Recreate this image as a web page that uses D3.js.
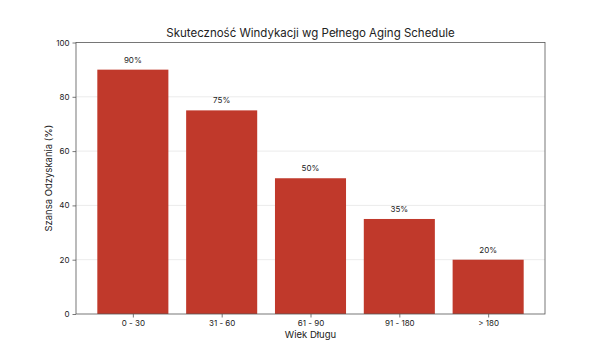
<!DOCTYPE html>
<html>
<head>
<meta charset="utf-8">
<script src="https://cdn.jsdelivr.net/npm/d3@7"></script>
<style>
  body { margin: 0; background: #fff; }
  text { font-family: "Inter", "Open Sans", sans-serif; fill: #222; }
</style>
</head>
<body>
<div id="chart"></div>
<script>
// data
var categories = ["0 - 30", "31 - 60", "61 - 90", "91 - 180", "> 180"];
var values = [90, 75, 50, 35, 20];
var yTicks = [0, 20, 40, 60, 80, 100];

var W = 605, H = 353;
var margin = {top: 42.5, right: 60, bottom: 39, left: 76};
var width = W - margin.left - margin.right,
    height = H - margin.top - margin.bottom;

var svg = d3.select("#chart")
  .append("svg")
    .attr("width", W)
    .attr("height", H);

var g = svg.append("g")
  .attr("transform", "translate(" + margin.left + "," + margin.top + ")");

// x like matplotlib: bar width 0.8, margins 0.05
var x = d3.scaleLinear()
  .domain([-0.64, categories.length - 1 + 0.64])
  .range([0, width]);
var y = d3.scaleLinear()
  .domain([0, 100])
  .range([height, 0]);

// grid
g.selectAll(".grid")
  .data(yTicks.filter(function(d) { return d > 0 && d < 100; }))
  .enter().append("line")
    .attr("x1", 0).attr("x2", width)
    .attr("y1", function(d) { return y(d); })
    .attr("y2", function(d) { return y(d); })
    .attr("stroke", "#e6e6e6")
    .attr("stroke-width", 0.8);

// bars
g.selectAll("rect.bar")
  .data(values)
  .enter().append("rect")
    .attr("class", "bar")
    .attr("x", function(d, i) { return x(i - 0.4); })
    .attr("y", function(d) { return y(d); })
    .attr("width", x(0.4) - x(-0.4))
    .attr("height", function(d) { return height - y(d); })
    .attr("fill", "#c0392b");

// value labels
g.selectAll("text.val")
  .data(values)
  .enter().append("text")
    .attr("class", "val")
    .attr("x", function(d, i) { return x(i); })
    .attr("y", function(d) { return y(d) - 7; })
    .attr("text-anchor", "middle")
    .style("font-size", "8px")
    .text(function(d) { return d + "%"; });

// frame
g.append("rect")
  .attr("width", width).attr("height", height)
  .attr("fill", "none")
  .attr("stroke", "#555")
  .attr("stroke-width", 0.8);

// axes
var yAxis = g.append("g")
  .call(d3.axisLeft(y).tickValues(yTicks).tickSize(3.5).tickPadding(3));
var xAxis = g.append("g")
  .attr("transform", "translate(0," + height + ")")
  .call(d3.axisBottom(x).tickValues(d3.range(categories.length))
    .tickFormat(function(i) { return categories[i]; }).tickSize(3.5).tickPadding(3));

[xAxis, yAxis].forEach(function(a) {
  a.select(".domain").remove();
  a.selectAll(".tick line").attr("stroke", "#555").attr("stroke-width", 0.8);
  a.selectAll(".tick text").style("font-size", "8px").attr("fill", "#222");
});

// title and labels
svg.append("text")
  .attr("x", margin.left + width / 2)
  .attr("y", 37)
  .attr("text-anchor", "middle")
  .style("font-size", "11.5px")
  .text("Skuteczność Windykacji wg Pełnego Aging Schedule");

svg.append("text")
  .attr("x", margin.left + width / 2)
  .attr("y", 338)
  .attr("text-anchor", "middle")
  .style("font-size", "9.5px")
  .text("Wiek Długu");

svg.append("text")
  .attr("transform", "translate(52," + (margin.top + height / 2) + ") rotate(-90)")
  .attr("text-anchor", "middle")
  .style("font-size", "9.5px")
  .text("Szansa Odzyskania (%)");
</script>
</body>
</html>
